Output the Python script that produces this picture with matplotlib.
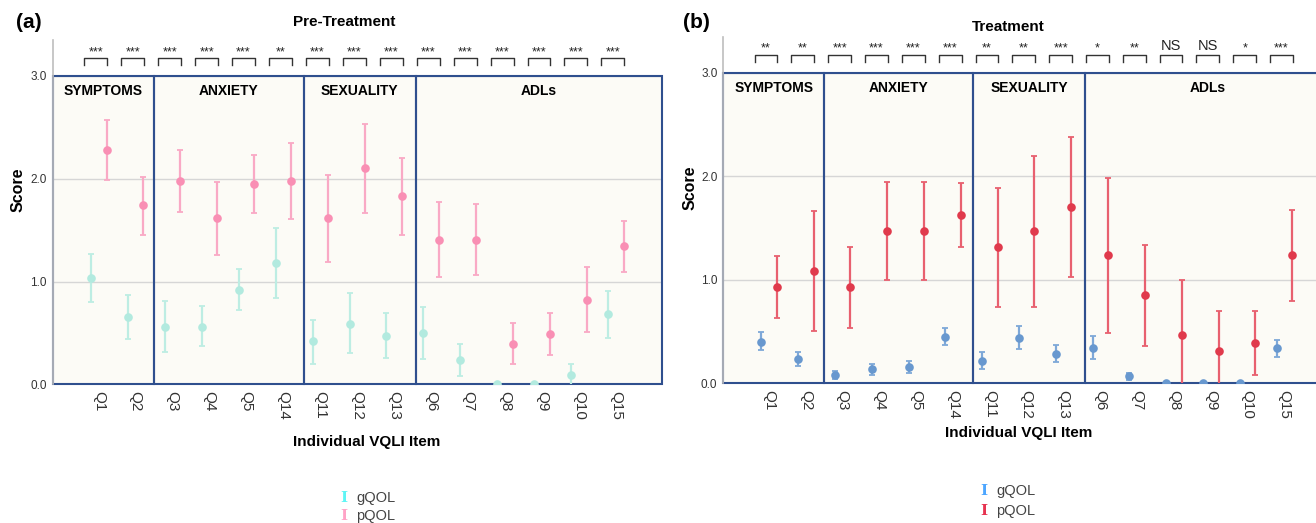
import numpy as np
import matplotlib
matplotlib.use("Agg")
import matplotlib.pyplot as plt
from matplotlib.patches import Rectangle

plt.rcParams['font.family'] = ['Liberation Sans', 'DejaVu Sans']

# ---------------- data ----------------
items = ['Q1', 'Q2', 'Q3', 'Q4', 'Q5', 'Q14', 'Q11', 'Q12', 'Q13',
         'Q6', 'Q7', 'Q8', 'Q9', 'Q10', 'Q15']
groups = ['SYMPTOMS', 'ANXIETY', 'SEXUALITY', 'ADLs']
series = ['gQOL', 'pQOL']

pre_g_mean = [1.03, 0.65, 0.56, 0.56, 0.92, 1.18, 0.42, 0.59, 0.47, 0.50, 0.24, 0.0, 0.0, 0.09, 0.68]
pre_g_lo = [0.80, 0.44, 0.31, 0.37, 0.72, 0.84, 0.20, 0.30, 0.26, 0.25, 0.08, 0.0, 0.0, -0.02, 0.45]
pre_g_hi = [1.27, 0.87, 0.81, 0.76, 1.12, 1.52, 0.63, 0.885, 0.69, 0.75, 0.39, 0.0, 0.0, 0.195, 0.91]
pre_p_mean = [2.28, 1.74, 1.98, 1.615, 1.95, 1.98, 1.615, 2.10, 1.83, 1.40, 1.40, 0.395, 0.486, 0.823, 1.342]
pre_p_lo = [1.99, 1.45, 1.68, 1.26, 1.67, 1.605, 1.19, 1.67, 1.455, 1.04, 1.06, 0.20, 0.285, 0.51, 1.09]
pre_p_hi = [2.57, 2.02, 2.28, 1.97, 2.23, 2.35, 2.04, 2.535, 2.20, 1.77, 1.75, 0.60, 0.69, 1.14, 1.59]

trt_g_mean = [0.40, 0.23, 0.074, 0.135, 0.152, 0.445, 0.216, 0.438, 0.283, 0.341, 0.065, 0.0, 0.0, 0.0, 0.335]
trt_g_lo = [0.32, 0.164, 0.039, 0.08, 0.094, 0.364, 0.135, 0.332, 0.203, 0.232, 0.032, 0.0, 0.0, 0.0, 0.255]
trt_g_hi = [0.49, 0.303, 0.113, 0.187, 0.21, 0.529, 0.297, 0.548, 0.364, 0.454, 0.097, 0.0, 0.0, 0.0, 0.419]
trt_p_mean = [0.925, 1.08, 0.925, 1.467, 1.467, 1.621, 1.315, 1.467, 1.699, 1.234, 0.848, 0.461, 0.306, 0.384, 1.234]
trt_p_lo = [0.625, 0.503, 0.535, 0.996, 1.0, 1.315, 0.735, 0.735, 1.025, 0.483, 0.361, -0.07, -0.08, 0.074, 0.793]
trt_p_hi = [1.228, 1.663, 1.315, 1.94, 1.94, 1.931, 1.888, 2.198, 2.375, 1.985, 1.334, 0.996, 0.693, 0.693, 1.676]

pre_sig = ['***', '***', '***', '***', '***', '**', '***', '***', '***',
           '***', '***', '***', '***', '***', '***']
trt_sig = ['**', '**', '***', '***', '***', '***', '**', '**', '***',
           '*', '**', 'NS', 'NS', '*', '***']

yticks = [0.0, 1.0, 2.0, 3.0]

# ---------------- layout / style ----------------
W, H = 1316, 523
fig = plt.figure(figsize=(W / 100, H / 100), dpi=100)

group_edges = [-1.25, 1.5, 5.55, 8.58, 15.25]
box_face = '#FCFBF6'
box_edge = '#2F4F8E'
grid_col = '#D6D6D6'

panels = [
    dict(rect=[52.6 / W, 138.7 / H, 609.4 / W, 344.3 / H],
         g=(pre_g_mean, pre_g_lo, pre_g_hi), p=(pre_p_mean, pre_p_lo, pre_p_hi),
         sig=pre_sig,
         gcol='#B2EADF', gbar='#BDEDE3', pcol='#F98FB4', pbar='#F9A9C5',
         leg_g='#5FF5F5', leg_p='#FFA3C6',
         title='Pre-Treatment', title_xy=(344, 22), tag='(a)', tag_xy=(29, 22),
         score_xy=(18, 190), xlab_xy=(367, 442),
         leg_x=(344, 356), leg_y=(498, 516)),
    dict(rect=[723 / W, 140 / H, 607.5 / W, 346.3 / H],
         g=(trt_g_mean, trt_g_lo, trt_g_hi), p=(trt_p_mean, trt_p_lo, trt_p_hi),
         sig=trt_sig,
         gcol='#6898CF', gbar='#7EA8D8', pcol='#E03A4C', pbar='#E8606F',
         leg_g='#4DA6FF', leg_p='#E63350',
         title='Treatment', title_xy=(1008, 27), tag='(b)', tag_xy=(696, 22),
         score_xy=(690, 188), xlab_xy=(1019, 433),
         leg_x=(984, 996), leg_y=(491, 511)),
]

x = np.arange(len(items))
dodge = 0.21

for P in panels:
    ax = fig.add_axes(P['rect'])
    ax.set_xlim(-1.25, 15.25)
    ax.set_ylim(0, 3.35)
    ax.set_facecolor('white')

    # group boxes (fill)
    for k in range(len(groups)):
        x0, x1 = group_edges[k], group_edges[k + 1]
        ax.add_patch(Rectangle((x0, 0), x1 - x0, 3.0, facecolor=box_face,
                               edgecolor='none', zorder=0))
    for yv in yticks[1:]:
        ax.axhline(yv, color=grid_col, lw=1.0, zorder=0.5)
    for k in range(len(groups)):
        x0, x1 = group_edges[k], group_edges[k + 1]
        ax.add_patch(Rectangle((x0, 0), x1 - x0, 3.0, facecolor='none',
                               edgecolor=box_edge, lw=1.5, zorder=1.5, clip_on=False))
        ax.text((x0 + x1) / 2, 2.855, groups[k], ha='center', va='center',
                fontsize=10, fontweight='bold', color='black')

    gm, glo, ghi = [np.array(a, float) for a in P['g']]
    pm, plo, phi = [np.array(a, float) for a in P['p']]
    ax.errorbar(x - dodge, gm, yerr=[gm - glo, ghi - gm], fmt='none',
                ecolor=P['gbar'], elinewidth=1.6, capsize=2.0, capthick=1.3, zorder=3)
    ax.plot(x - dodge, gm, 'o', color=P['gcol'], ms=6.2, zorder=4, mec='none')
    ax.errorbar(x + dodge, pm, yerr=[pm - plo, phi - pm], fmt='none',
                ecolor=P['pbar'], elinewidth=1.6, capsize=2.0, capthick=1.3, zorder=3)
    ax.plot(x + dodge, pm, 'o', color=P['pcol'], ms=6.2, zorder=4, mec='none')

    # significance brackets
    for xi, s in zip(x, P['sig']):
        cx = xi - 0.08
        bx = [cx - 0.31, cx - 0.31, cx + 0.31, cx + 0.31]
        by = [3.11, 3.17, 3.17, 3.11]
        ax.plot(bx, by, color='#333333', lw=1.0, clip_on=False, zorder=3)
        if s == 'NS':
            ax.text(cx, 3.19, s, ha='center', va='bottom', fontsize=10.5, color='#222222')
        else:
            ax.text(cx, 3.175, s, ha='center', va='bottom', fontsize=9, color='#222222')

    # axes styling
    for sp in ['top', 'right', 'bottom']:
        ax.spines[sp].set_visible(False)
    ax.spines['left'].set_color('#BDBDBD')
    ax.spines['left'].set_linewidth(1.2)
    ax.set_yticks(yticks)
    ax.set_yticklabels([f'{v:.1f}' for v in yticks], fontsize=8.5, color='#333333')
    ax.set_xticks(x)
    ax.set_xticklabels(items, rotation=-90, fontsize=11, color='#333333',
                       va='top', ha='center')
    ax.tick_params(axis='both', length=0)
    ax.tick_params(axis='x', pad=5)
    ax.tick_params(axis='y', pad=4)

    # legend: "I" error-bar glyph + label
    gx, tx = P['leg_x']
    for name, col, ly in zip(series, [P['leg_g'], P['leg_p']], P['leg_y']):
        fig.text(gx / W, 1 - ly / H, 'I', ha='center', va='center', color=col,
                 fontsize=11, fontweight='bold', family='DejaVu Serif')
        fig.text(tx / W, 1 - ly / H, name, ha='left', va='center', color='#444444',
                 fontsize=10.5)

    # texts
    px, py = P['title_xy']
    fig.text(px / W, 1 - py / H, P['title'], ha='center', va='center',
             fontsize=11, fontweight='bold')
    px, py = P['tag_xy']
    fig.text(px / W, 1 - py / H, P['tag'], ha='center', va='center',
             fontsize=15, fontweight='bold')
    px, py = P['score_xy']
    fig.text(px / W, 1 - py / H, 'Score', ha='center', va='center', rotation=90,
             fontsize=11.5, fontweight='bold')
    px, py = P['xlab_xy']
    fig.text(px / W, 1 - py / H, 'Individual VQLI Item', ha='center', va='center',
             fontsize=11, fontweight='bold')

fig.savefig('out.png', dpi=100)
